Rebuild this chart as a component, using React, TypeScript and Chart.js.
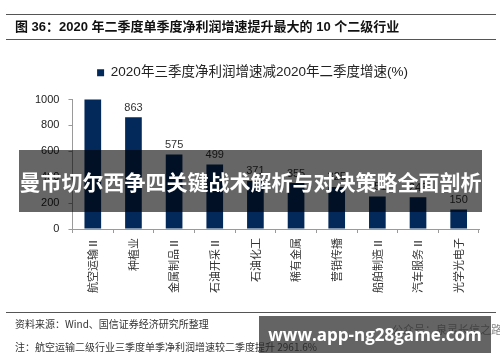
import React, { useEffect, useRef } from "react";
import { Chart, registerables } from "chart.js";

Chart.register(...registerables);

const categories = [
  "航空运输Ⅱ",
  "种植业",
  "金属制品Ⅱ",
  "石油开采Ⅱ",
  "石油化工",
  "稀有金属",
  "营销传播",
  "船舶制造Ⅱ",
  "汽车服务Ⅱ",
  "光学光电子",
];
const values = [2961.6, 863, 575, 499, 371, 355, 325, 251, 246, 150];
const seriesLabel = "2020年三季度净利润增速减2020年二季度增速(%)";
const yMin = 0;
const yMax = 1000;
const yStep = 100;

const titleText = "图 36：2020 年二季度单季度净利润增速提升最大的 10 个二级行业";
const sourceText = "资料来源：Wind、国信证券经济研究所整理";
const noteText = "注：航空运输二级行业三季度单季净利润增速较二季度提升 2961.6%";
const bannerText = "曼市切尔西争四关键战术解析与对决策略全面剖析";
const watermarkText = "www.app-ng28game.com";
const faintText = "公众号：泉灵长信之路";

const BAR = "#03295a";
const SANS = "'Liberation Sans', Arial, 'Noto Sans CJK SC', sans-serif";
const CJK = "'Noto Sans CJK SC', 'Liberation Sans', sans-serif";

const valueLabels = {
  id: "valueLabels",
  afterDatasetsDraw(chart: any) {
    const ctx = chart.ctx;
    const meta = chart.getDatasetMeta(0);
    const max = chart.scales.y.max;
    ctx.save();
    ctx.font = "11px " + SANS;
    ctx.fillStyle = "#333";
    ctx.textAlign = "center";
    ctx.textBaseline = "bottom";
    meta.data.forEach((el: any, i: number) => {
      const v = chart.data.datasets[0].data[i];
      if (v > max) return;
      ctx.fillText(String(v), el.x, el.y - 4);
    });
    ctx.restore();
  },
};

export default function App() {
  const ref = useRef<HTMLCanvasElement>(null);
  useEffect(() => {
    if (!ref.current) return;
    const chart = new Chart(ref.current, {
      type: "bar",
      data: {
        labels: categories,
        datasets: [
          {
            label: seriesLabel,
            data: values,
            backgroundColor: BAR,
            borderColor: BAR,
            borderWidth: 0,
            barPercentage: 0.82,
            categoryPercentage: 0.5,
          },
        ],
      },
      options: {
        responsive: false,
        animation: false,
        devicePixelRatio: 1,
        layout: { padding: { top: 56, left: 26, right: 21, bottom: 64 } },
        plugins: {
          legend: {
            display: true,
            position: "top",
            labels: {
              boxWidth: 7,
              boxHeight: 7,
              padding: 10,
              color: "#222",
              font: { size: 13.5, family: SANS },
            },
          },
          subtitle: {
            display: true,
            text: "",
            weight: 500,
            padding: 0,
            font: { size: 10, lineHeight: 1 },
          } as any,
          tooltip: { enabled: false },
        },
        scales: {
          x: {
            grid: {
              display: true,
              drawOnChartArea: false,
              drawTicks: true,
              tickLength: 4,
              color: "#9a9a9a",
              offset: true,
            },
            border: { color: "#9a9a9a", width: 1 },
            ticks: {
              minRotation: 90,
              maxRotation: 90,
              padding: 5,
              color: "#333",
              font: { size: 11, family: CJK },
            },
          },
          y: {
            min: yMin,
            max: yMax,
            grid: {
              display: true,
              drawOnChartArea: false,
              drawTicks: true,
              tickLength: 4,
              color: "#9a9a9a",
            },
            border: { color: "#9a9a9a", width: 1 },
            ticks: {
              stepSize: yStep,
              padding: 9,
              color: "#222",
              font: { size: 11, family: SANS },
              callback: (v: any) => String(v),
            },
          },
        },
      },
      plugins: [valueLabels],
    });
    return () => chart.destroy();
  }, []);

  return (
    <div
      style={{
        position: "absolute",
        left: 0,
        top: 0,
        width: 500,
        height: 362,
        background: "#fff",
        overflow: "hidden",
      }}
    >
      <canvas
        ref={ref}
        width={500}
        height={362}
        style={{ position: "absolute", left: 0, top: 0, width: 500, height: 362 }}
      />
      <div style={{ position: "absolute", left: 6, top: 14, width: 490, height: 0, borderTop: "1.5px solid #555" }} />
      <div
        style={{
          position: "absolute",
          left: 15,
          top: 18,
          height: 18,
          lineHeight: "18px",
          fontSize: 13,
          fontWeight: "bold",
          fontFamily: SANS,
          color: "#111",
          whiteSpace: "nowrap",
        }}
      >
        {titleText}
      </div>
      <div style={{ position: "absolute", left: 6, top: 38.5, width: 490, height: 0, borderTop: "1px solid #555" }} />
      <div style={{ position: "absolute", left: 6, top: 311.5, width: 490, height: 0, borderTop: "1px solid #555" }} />
      <div
        style={{
          position: "absolute",
          left: 15,
          top: 317,
          lineHeight: "14px",
          fontSize: 10,
          fontFamily: CJK,
          color: "#333",
          whiteSpace: "nowrap",
        }}
      >
        {sourceText}
      </div>
      <div
        style={{
          position: "absolute",
          left: 15,
          top: 340,
          lineHeight: "14px",
          fontSize: 10,
          fontFamily: CJK,
          color: "#333",
          whiteSpace: "nowrap",
        }}
      >
        {noteText}
      </div>
      <div
        style={{
          position: "absolute",
          left: 392,
          top: 322,
          lineHeight: "14px",
          fontSize: 11,
          fontFamily: CJK,
          color: "#888",
          whiteSpace: "nowrap",
        }}
      >
        {faintText}
      </div>
      <div
        style={{
          position: "absolute",
          left: 19,
          top: 150,
          width: 463,
          height: 62,
          background: "rgba(0,0,0,0.6)",
          display: "flex",
          alignItems: "center",
          justifyContent: "center",
        }}
      >
        <span
          style={{
            color: "#fff",
            fontSize: 21,
            fontWeight: "bold",
            fontFamily: CJK,
            whiteSpace: "nowrap",
            lineHeight: "24px",
          }}
        >
          {bannerText}
        </span>
      </div>
      <div
        style={{
          position: "absolute",
          left: 259,
          top: 316,
          width: 232,
          height: 37,
          background: "rgba(40,40,40,0.72)",
          display: "flex",
          alignItems: "center",
          justifyContent: "center",
        }}
      >
        <span
          style={{
            color: "#fff",
            fontSize: 17,
            fontWeight: "bold",
            fontFamily: "'Open Sans', 'Noto Sans', sans-serif",
            whiteSpace: "nowrap",
            lineHeight: "20px",
          }}
        >
          {watermarkText}
        </span>
      </div>
    </div>
  );
}
